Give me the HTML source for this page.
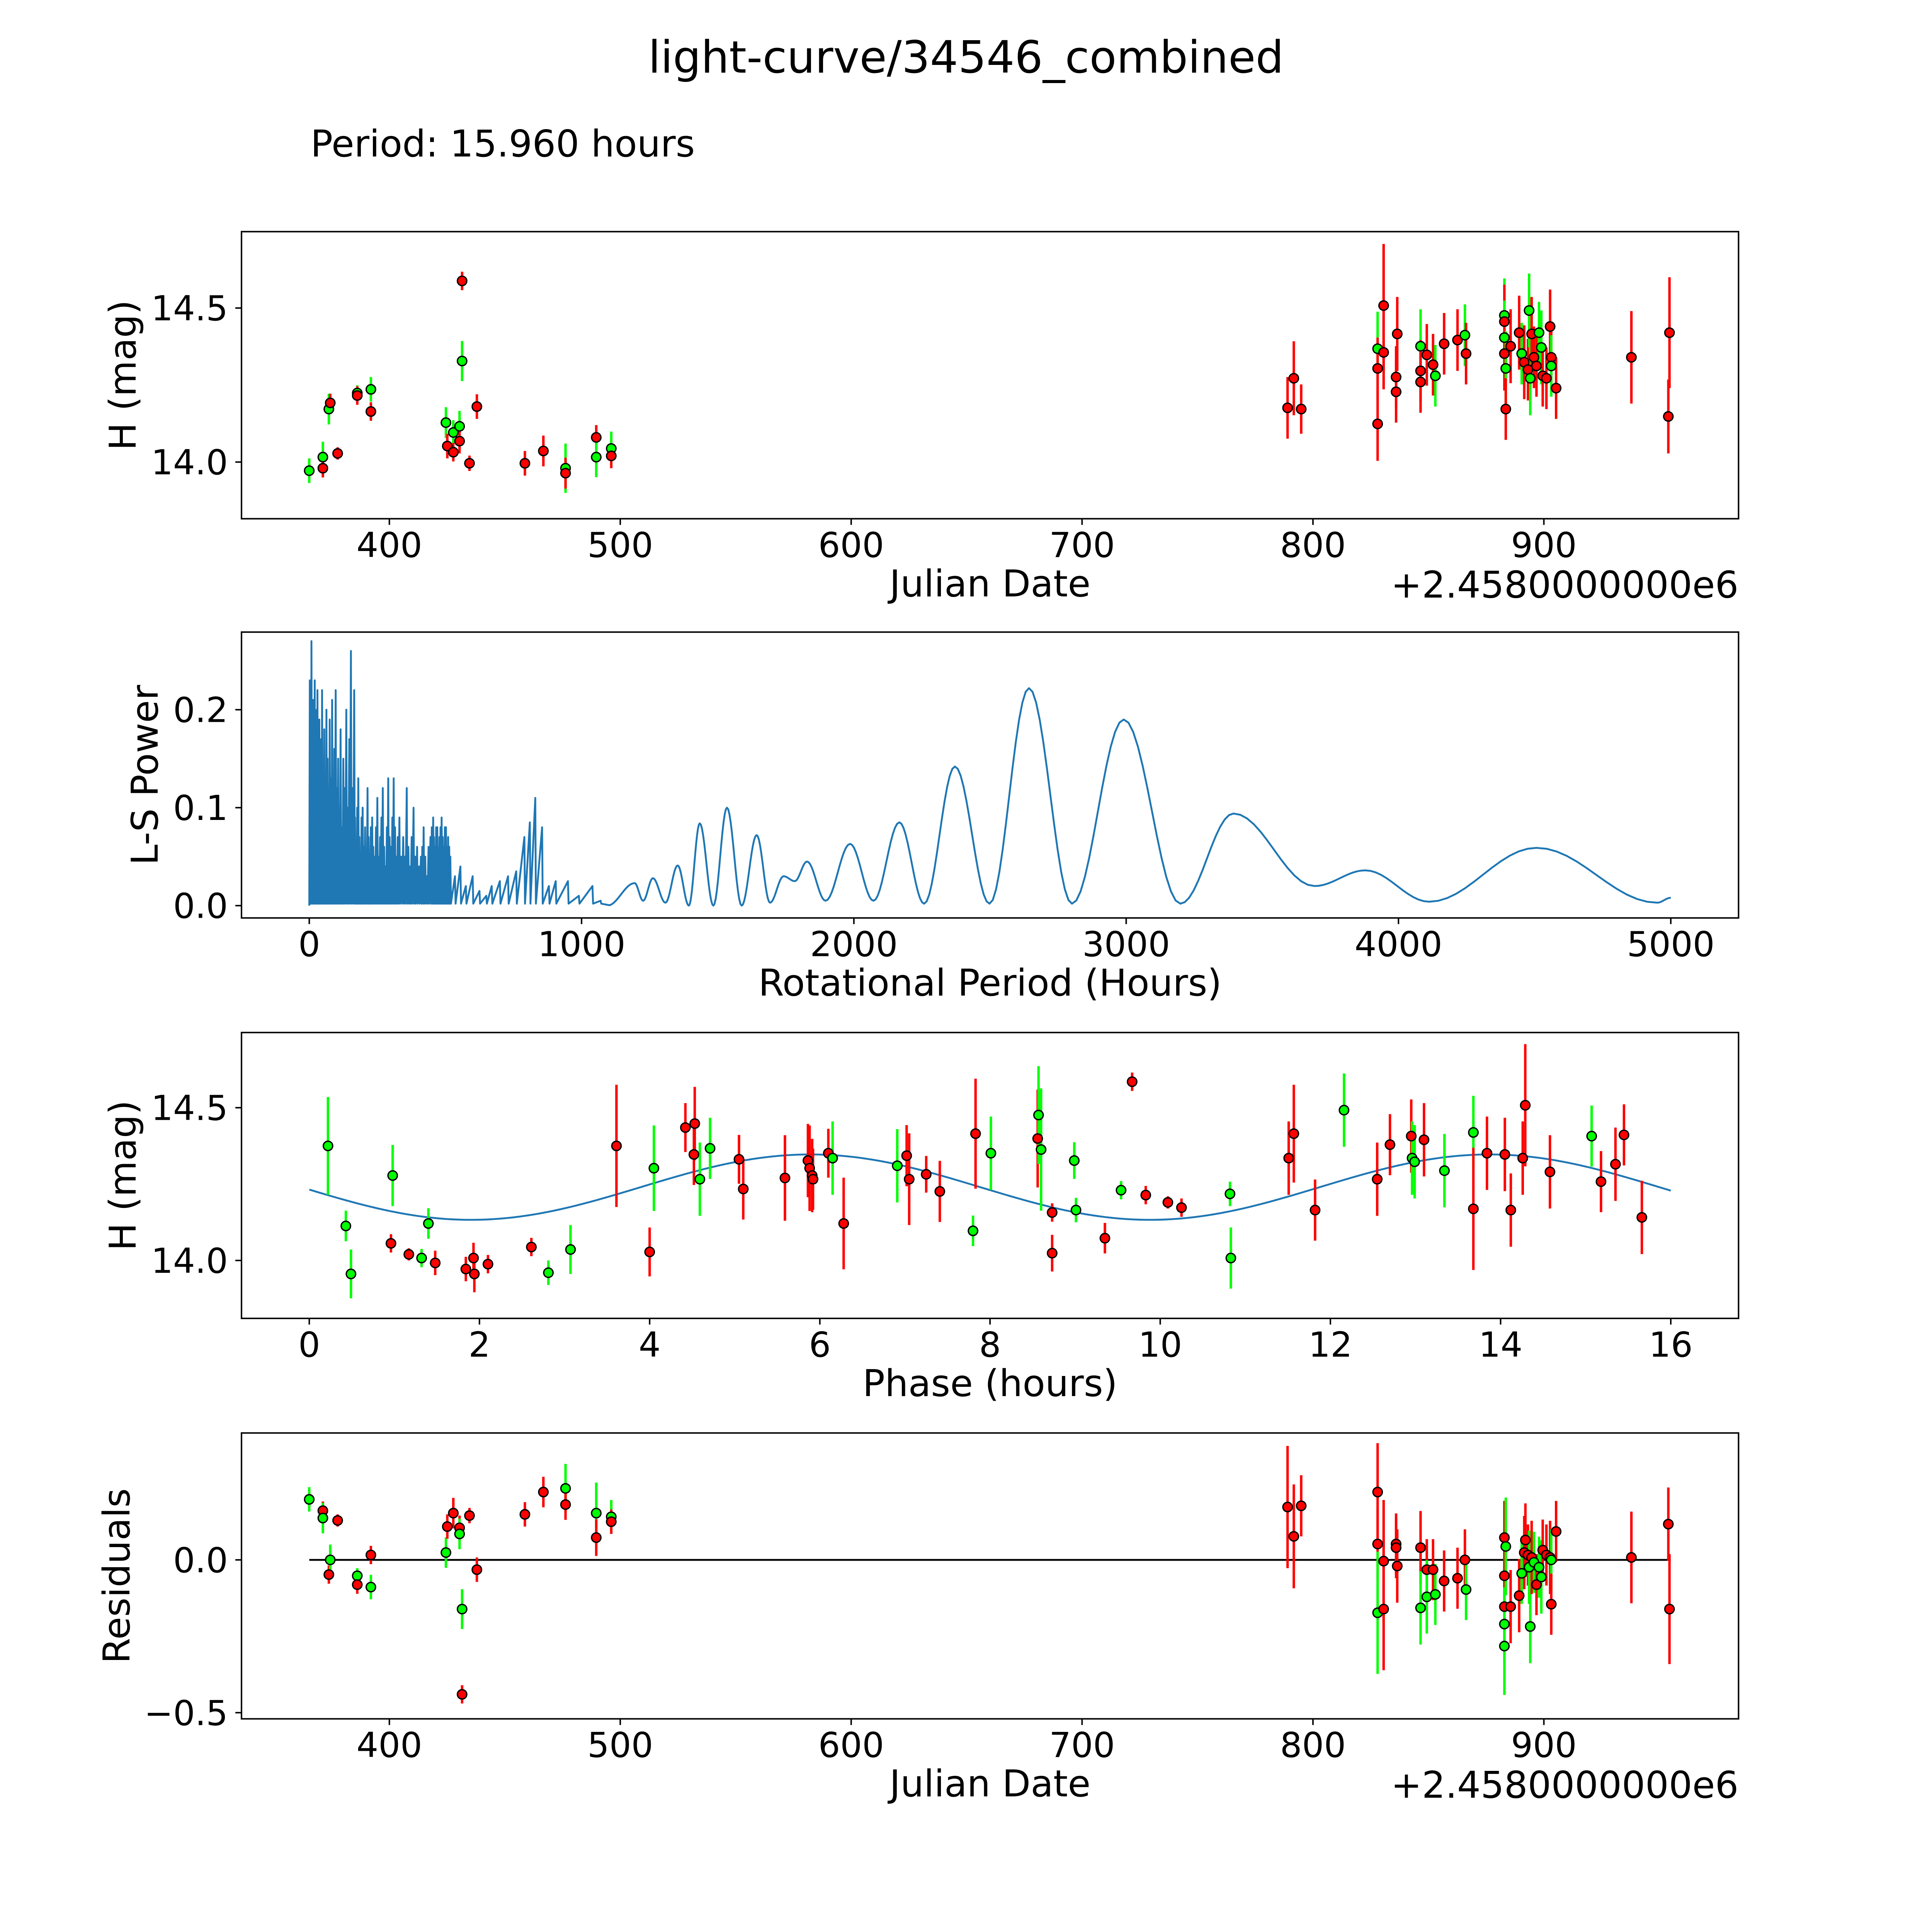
<!DOCTYPE html>
<html><head><meta charset="utf-8"><style>
html,body{margin:0;padding:0;background:#fff;overflow:hidden}
svg{display:block;width:100vw;height:100vh}
text{font-family:"DejaVu Sans","Liberation Sans",sans-serif;fill:#000}
</style></head><body>
<svg id="fig" viewBox="0 0 1568 1568" preserveAspectRatio="xMidYMid meet" xmlns="http://www.w3.org/2000/svg">
<rect width="1568" height="1568" fill="#fff"/>
<text x="784" y="59" font-size="36" text-anchor="middle">light-curve/34546_combined</text>
<text x="252" y="127" font-size="30">Period: 15.960 hours</text>
</svg>
<script>
// Panel 1: [date offset (days), mag, err, color]
const lcObs = [
[365.3,13.972,0.04,'g'],[371.2,14.016,0.05,'g'],[371.2,13.98,0.03,'r'],[373.8,14.172,0.05,'g'],[374.4,14.192,0.03,'r'],
[377.6,14.028,0.02,'r'],[386.1,14.224,0.025,'g'],[386.1,14.216,0.03,'r'],[392.0,14.236,0.04,'g'],[392.0,14.164,0.03,'r'],
[424.5,14.128,0.05,'g'],[425.1,14.052,0.04,'r'],[427.7,14.096,0.04,'g'],[427.7,14.032,0.03,'r'],[430.4,14.116,0.05,'g'],
[430.4,14.068,0.04,'r'],[431.5,14.588,0.03,'r'],[431.5,14.328,0.065,'g'],[434.7,13.996,0.025,'r'],[437.9,14.18,0.04,'r'],
[458.7,13.996,0.04,'r'],[466.7,14.036,0.05,'r'],[476.3,13.98,0.08,'g'],[476.3,13.964,0.05,'r'],[489.6,14.08,0.04,'r'],
[489.6,14.016,0.065,'g'],[496.1,14.044,0.055,'g'],[496.1,14.02,0.04,'r'],
[789.0,14.176,0.1,'r'],[791.7,14.272,0.12,'r'],[794.9,14.172,0.08,'r'],[828.0,14.368,0.12,'g'],[828.0,14.304,0.1,'r'],
[828.0,14.124,0.12,'r'],[830.6,14.508,0.2,'r'],[830.6,14.356,0.12,'r'],[836.0,14.276,0.1,'r'],[836.0,14.228,0.1,'r'],
[836.5,14.416,0.12,'r'],[846.6,14.376,0.12,'g'],[846.6,14.296,0.1,'r'],[846.6,14.26,0.1,'r'],[849.3,14.348,0.1,'r'],
[852.0,14.316,0.1,'r'],[853.0,14.28,0.1,'g'],[856.8,14.384,0.1,'r'],[862.6,14.396,0.1,'r'],[865.8,14.412,0.1,'g'],
[866.3,14.352,0.1,'r'],[882.9,14.476,0.12,'g'],[882.9,14.456,0.12,'r'],[882.9,14.404,0.12,'g'],[882.9,14.352,0.12,'r'],
[883.5,14.304,0.12,'g'],[883.5,14.172,0.1,'r'],[885.6,14.376,0.12,'r'],[889.3,14.42,0.12,'r'],[890.4,14.352,0.1,'g'],
[891.5,14.324,0.12,'r'],[893.1,14.3,0.1,'r'],[893.6,14.492,0.12,'g'],[894.1,14.272,0.12,'g'],[894.7,14.416,0.12,'r'],
[895.7,14.34,0.1,'r'],[896.8,14.312,0.1,'r'],[897.9,14.42,0.1,'g'],[898.9,14.372,0.12,'g'],[899.5,14.28,0.1,'r'],
[901.1,14.272,0.1,'r'],[902.7,14.44,0.12,'r'],[903.2,14.34,0.1,'r'],[903.2,14.312,0.1,'g'],[905.3,14.24,0.1,'r'],
[937.9,14.34,0.15,'r'],[953.9,14.148,0.12,'r'],[954.4,14.42,0.18,'r']
];
// Panel 2: spike section (period hours, power) and smooth extrema section
const lsSpikes = [
[2,0.23],[5,0.19],[8,0.27],[11,0.15],[14,0.21],[17,0.18],[20,0.23],[24,0.12],[27,0.2],[30,0.22],[34,0.16],[37,0.19],[40,0.1],[44,0.17],[47,0.22],[51,0.14],[55,0.18],[59,0.12],[63,0.2],[67,0.15],[71,0.09],[75,0.19],[79,0.13],[84,0.21],[88,0.11],[92,0.16],[97,0.22],[101,0.12],[106,0.15],[110,0.1],[115,0.18],[120,0.08],[125,0.15],[130,0.12],[136,0.2],[141,0.1],[147,0.17],[153,0.26],[159,0.12],[165,0.22],
[168,0.09],[172,0.06],[176,0.1],[180,0.13],[184,0.07],[188,0.05],[192,0.09],[196,0.1],[200,0.06],[205,0.08],[209,0.05],[214,0.12],[218,0.07],[222,0.04],[226,0.08],[231,0.09],[235,0.06],[240,0.05],[245,0.08],[250,0.11],[255,0.05],[260,0.07],[265,0.09],[270,0.12],[275,0.06],[280,0.04],[285,0.08],[290,0.13],[295,0.07],[300,0.06],[305,0.09],[310,0.13],[315,0.08],[320,0.05],[325,0.07],[331,0.09],[338,0.05],
[345,0.07],[351,0.05],[358,0.12],[364,0.06],[370,0.04],[376,0.07],[383,0.1],[389,0.05],[396,0.06],[403,0.04],[410,0.05],[415,0.06],[420,0.08],[426,0.05],[432,0.03],[438,0.06],[445,0.07],[450,0.08],[455,0.09],[458,0.07],[462,0.06],[466,0.08],[470,0.08],[474,0.06],[478,0.07],[482,0.08],[486,0.09],[490,0.07],[494,0.06],[498,0.08],[502,0.08],[506,0.06],[510,0.07],[514,0.06],[518,0.05],
[535,0.03],[555,0.04],[575,0.02],[600,0.03],[625,0.015],[650,0.01],[670,0.02],[700,0.025],[730,0.03],[760,0.035],[790,0.07],[810,0.085],[830,0.11],[855,0.08],[880,0.02],[905,0.025],[950,0.025],[990,0.01],[1040,0.02],[1070,0.005]
];
const lsExtrema = [
[1095,0],[1195,0.023],[1226,0.005],[1262,0.028],[1308,0.003],[1353,0.041],[1394,0],[1434,0.084],[1484,0],[1534,0.1],[1588,0],[1643,0.072],[1692,0.003],[1742,0.03],[1783,0.025],[1828,0.045],[1896,0.005],[1986,0.063],[2072,0.005],[2167,0.085],[2258,0.002],[2371,0.142],[2498,0.002],[2643,0.222],[2801,0.002],[2991,0.19],[3199,0.002],[3394,0.094],[3692,0.02],[3878,0.036],[4113,0.004],[4507,0.059],[4950,0.003],[5000,0.008]
];
// Panel 3: [phase hours, mag, err, color]
const phaseObs = [
[0.22,14.375,0.16,'g'],[0.43,14.113,0.05,'g'],[0.49,13.956,0.08,'g'],[0.98,14.278,0.1,'g'],[0.96,14.056,0.03,'r'],
[1.17,14.02,0.02,'r'],[1.32,14.008,0.03,'g'],[1.40,14.121,0.05,'g'],[1.48,13.992,0.04,'r'],[1.84,13.972,0.04,'r'],
[1.93,14.008,0.05,'r'],[1.94,13.956,0.06,'r'],[2.10,13.988,0.03,'r'],[2.61,14.044,0.03,'r'],[2.81,13.96,0.04,'g'],
[3.07,14.036,0.08,'g'],[3.61,14.375,0.2,'r'],[4.00,14.028,0.08,'r'],[4.05,14.302,0.14,'g'],[4.42,14.435,0.08,'r'],
[4.52,14.347,0.1,'r'],[4.53,14.448,0.12,'r'],[4.59,14.266,0.12,'g'],[4.71,14.367,0.1,'g'],[5.05,14.331,0.08,'r'],
[5.10,14.234,0.1,'r'],[5.59,14.27,0.14,'r'],[5.86,14.327,0.12,'r'],[5.88,14.302,0.14,'r'],[5.91,14.278,0.12,'r'],
[5.92,14.266,0.1,'r'],[6.10,14.351,0.08,'r'],[6.15,14.335,0.12,'g'],[6.28,14.121,0.15,'r'],[6.91,14.31,0.12,'g'],
[7.02,14.343,0.1,'r'],[7.05,14.266,0.15,'r'],[7.25,14.282,0.06,'r'],[7.41,14.226,0.1,'r'],[7.80,14.097,0.05,'g'],
[7.83,14.415,0.18,'r'],[8.01,14.351,0.12,'g'],[8.56,14.399,0.16,'r'],[8.57,14.476,0.16,'g'],[8.60,14.363,0.2,'g'],
[8.73,14.157,0.03,'r'],[8.73,14.024,0.06,'r'],[8.99,14.327,0.06,'g'],[9.01,14.165,0.04,'g'],[9.35,14.073,0.05,'r'],
[9.54,14.23,0.03,'g'],[9.67,14.585,0.03,'r'],[9.83,14.214,0.03,'r'],[10.09,14.19,0.02,'r'],[10.25,14.173,0.03,'r'],
[10.82,14.218,0.04,'g'],[10.83,14.008,0.1,'g'],[11.51,14.335,0.12,'r'],[11.57,14.415,0.16,'r'],[11.82,14.165,0.1,'r'],
[12.16,14.492,0.12,'g'],[12.55,14.266,0.12,'r'],[12.70,14.379,0.1,'r'],[12.95,14.407,0.12,'r'],[12.96,14.335,0.12,'g'],
[12.99,14.323,0.12,'g'],[13.10,14.395,0.12,'r'],[13.34,14.294,0.12,'g'],[13.68,14.419,0.12,'g'],[13.68,14.169,0.2,'r'],
[13.84,14.351,0.12,'r'],[14.05,14.347,0.12,'r'],[14.12,14.165,0.12,'r'],[14.26,14.335,0.12,'r'],[14.29,14.508,0.2,'r'],
[14.58,14.29,0.12,'r'],[15.07,14.407,0.1,'g'],[15.18,14.258,0.1,'r'],[15.35,14.315,0.12,'r'],[15.45,14.411,0.1,'r'],
[15.66,14.141,0.12,'r']
];
const fitMean = [14.24], fitAmp = [0.107], fitPhaseMin = [1.9], fitHalfPeriod = [7.98];
// Panel 4: [date offset, residual, err, color]
const residObs = [
[365.3,0.198,0.04,'g'],[371.2,0.161,0.03,'r'],[371.2,0.137,0.05,'g'],[373.8,-0.048,0.03,'r'],[374.4,0,0.05,'g'],
[377.6,0.129,0.02,'r'],[386.1,-0.052,0.025,'g'],[386.1,-0.081,0.03,'r'],[392.0,-0.089,0.04,'g'],[392.0,0.016,0.03,'r'],
[424.5,0.024,0.05,'g'],[425.1,0.109,0.04,'r'],[427.7,0.153,0.05,'r'],[430.4,0.105,0.04,'r'],[430.4,0.085,0.05,'g'],
[431.5,-0.44,0.03,'r'],[431.5,-0.161,0.065,'g'],[434.7,0.145,0.025,'r'],[437.9,-0.032,0.04,'r'],
[458.7,0.149,0.04,'r'],[466.7,0.222,0.05,'r'],[476.3,0.234,0.08,'g'],[476.3,0.181,0.05,'r'],[489.6,0.153,0.1,'g'],
[489.6,0.073,0.06,'r'],[496.1,0.141,0.055,'g'],[496.1,0.125,0.04,'r'],
[789.0,0.173,0.2,'r'],[791.7,0.077,0.17,'r'],[794.9,0.177,0.1,'r'],[828.0,0.222,0.16,'r'],[828.0,0.052,0.12,'r'],
[828.0,-0.173,0.2,'g'],[830.6,-0.004,0.2,'r'],[830.6,-0.161,0.2,'r'],[836.0,0.052,0.1,'r'],[836.0,0.04,0.1,'r'],
[836.5,-0.02,0.12,'r'],[846.6,0.04,0.12,'r'],[846.6,-0.157,0.12,'g'],[849.3,-0.032,0.1,'r'],[849.3,-0.121,0.12,'g'],
[852.0,-0.032,0.1,'r'],[853.0,-0.113,0.1,'g'],[856.8,-0.069,0.1,'r'],[862.6,-0.06,0.1,'r'],[865.8,0,0.1,'r'],
[866.3,-0.097,0.1,'g'],[882.9,0.073,0.12,'r'],[882.9,-0.052,0.12,'r'],[882.9,-0.153,0.12,'r'],[882.9,-0.21,0.12,'g'],
[882.9,-0.282,0.16,'g'],[883.5,0.044,0.16,'g'],[885.6,-0.153,0.12,'r'],[889.3,-0.117,0.12,'r'],[890.4,-0.044,0.1,'g'],
[891.5,0.024,0.12,'r'],[892.0,0.065,0.12,'r'],[893.1,0.016,0.1,'r'],[893.6,-0.024,0.12,'g'],[894.1,-0.218,0.12,'g'],
[894.7,0.008,0.12,'r'],[895.7,-0.008,0.1,'g'],[896.8,-0.081,0.1,'r'],[897.9,-0.024,0.1,'g'],[898.9,-0.056,0.12,'g'],
[899.5,0.032,0.1,'r'],[901.1,0.016,0.1,'r'],[902.7,0.008,0.12,'r'],[903.2,0,0.1,'g'],[903.2,-0.145,0.1,'r'],
[905.3,0.093,0.1,'r'],[937.9,0.008,0.15,'r'],[953.9,0.117,0.12,'r'],[954.4,-0.161,0.18,'r']
];
const jdTicks = [400,500,600,700,800,900];
const magTicks = [14.0,14.5];
const lsXTicks = [0,1000,2000,3000,4000,5000];
const lsYTicks = [0.0,0.1,0.2];
const phaseTicks = [0,2,4,6,8,10,12,14,16];
const residTicks = [0.0,-0.5];

const NS='http://www.w3.org/2000/svg';
const svg=document.getElementById('fig');
function mk(tag,attrs,parent){const e=document.createElementNS(NS,tag);for(const k in attrs)e.setAttribute(k,attrs[k]);(parent||svg).appendChild(e);return e;}
const L=196,R=1411;
const TFS=28, LFS=30;
function lin(d0,d1,p0,p1){return v=>p0+(v-d0)*(p1-p0)/(d1-d0);}
const xJD=lin(400,900,316,1253);
const COL={r:'#ff0000',g:'#00ff00'};

function axes(name,top,bot,xs,xTicks,xFmt,ys,yTicks,yFmt,xlabel,ylabel,ylabelX){
  const g=mk('g',{});
  
  
  xTicks.forEach(t=>{const x=xs(t);
    const l=mk('line',{x1:x,x2:x,y1:bot,y2:bot+5,stroke:'#000','stroke-width':1.2},g);
    
    const tx=mk('text',{x:x,y:bot+31,'font-size':TFS,'text-anchor':'middle'},g);tx.textContent=xFmt(t);
    });
  yTicks.forEach(t=>{const y=ys(t);
    const l=mk('line',{x1:L-5,x2:L,y1:y,y2:y,stroke:'#000','stroke-width':1.2},g);
    
    const tx=mk('text',{x:L-11,y:y+10,'font-size':TFS,'text-anchor':'end'},g);tx.textContent=yFmt(t);
    });
  const xl=mk('text',{x:(L+R)/2,y:bot+63,'font-size':LFS,'text-anchor':'middle'},g);xl.textContent=xlabel;
  
  const cy=(top+bot)/2;
  const yl=mk('text',{x:ylabelX,y:cy,'font-size':LFS,'text-anchor':'middle',transform:`rotate(-90 ${ylabelX} ${cy})`},g);yl.textContent=ylabel;
  
  return g;
}
function frame(top,bot){const f=mk('rect',{x:L,y:top,width:R-L,height:bot-top,fill:'none',stroke:'#000','stroke-width':1.2});
  }
function points(data,xs,ys,name){
  const g=mk('g',{});
  
  
  data.forEach(d=>{const x=xs(d[0]);
    const e=mk('line',{x1:x,x2:x,y1:ys(d[1]-d[2]),y2:ys(d[1]+d[2]),stroke:COL[d[3]],'stroke-width':2},g);
    });
  data.forEach(d=>{
    const c=mk('circle',{cx:xs(d[0]),cy:ys(d[1]),r:3.8,fill:COL[d[3]],stroke:'#000','stroke-width':1.1},g);
    });
}
const f1=v=>v.toFixed(1);
// Panel 1
const y1=lin(14,14.5,375,250);
axes('light-curve-panel',188,421,xJD,jdTicks,String,y1,magTicks,f1,'Julian Date','H (mag)',110);
points(lcObs,xJD,y1,'light-curve-points');
frame(188,421);
let off=mk('text',{x:R,y:485,'font-size':LFS,'text-anchor':'end'});off.textContent='+2.4580000000e6';


// Panel 2
const x2=lin(0,5000,251,1356), y2=lin(0,0.2,735,576);
axes('periodogram-panel',513,745,x2,lsXTicks,String,y2,lsYTicks,f1,'Rotational Period (Hours)','L-S Power',128);
let pts=[[x2(0),y2(0)]];
lsSpikes.forEach(s=>{pts.push([x2(s[0]),y2(s[1])]);pts.push([x2(s[0])+0.5,y2(0.002)]);});
let path='M'+pts.map(p=>p[0].toFixed(2)+','+p[1].toFixed(2)).join(' L');
for(let i=0;i<lsExtrema.length-1;i++){
  const a=lsExtrema[i],b=lsExtrema[i+1];
  for(let k=1;k<=12;k++){const t=k/12,w=(1-Math.cos(Math.PI*t))/2;
    path+=' L'+x2(a[0]+(b[0]-a[0])*t).toFixed(2)+','+y2(a[1]+(b[1]-a[1])*w).toFixed(2);}
}
const ls=mk('path',{d:path,fill:'none',stroke:'#1f77b4','stroke-width':1.5,'stroke-linejoin':'round'});

frame(513,745);

// Panel 3
const x3=lin(0,16,251,1356), y3=lin(14,14.5,1023,899);
axes('phase-panel',838,1070,x3,phaseTicks,String,y3,magTicks,f1,'Phase (hours)','H (mag)',110);
let fp='';
for(let i=0;i<=200;i++){const p=16*i/200;
  const m=fitMean[0]-fitAmp[0]*Math.cos(2*Math.PI*(p-fitPhaseMin[0])/fitHalfPeriod[0]);
  fp+=(i?' L':'M')+x3(p).toFixed(2)+','+y3(m).toFixed(2);}
const fit=mk('path',{d:fp,fill:'none',stroke:'#1f77b4','stroke-width':1.5});

points(phaseObs,x3,y3,'phase-points');
frame(838,1070);

// Panel 4
const y4=lin(0,-0.5,1266,1390);
axes('residuals-panel',1163,1395,xJD,jdTicks,String,y4,residTicks,v=>(v<0?'\u22120.5':'0.0'),'Julian Date','Residuals',105);
const zl=mk('line',{x1:251,x2:1356,y1:y4(0),y2:y4(0),stroke:'#000','stroke-width':1.5});

points(residObs,xJD,y4,'residual-points');
frame(1163,1395);
let off2=mk('text',{x:R,y:1459,'font-size':LFS,'text-anchor':'end'});off2.textContent='+2.4580000000e6';

</script>
</body></html>
